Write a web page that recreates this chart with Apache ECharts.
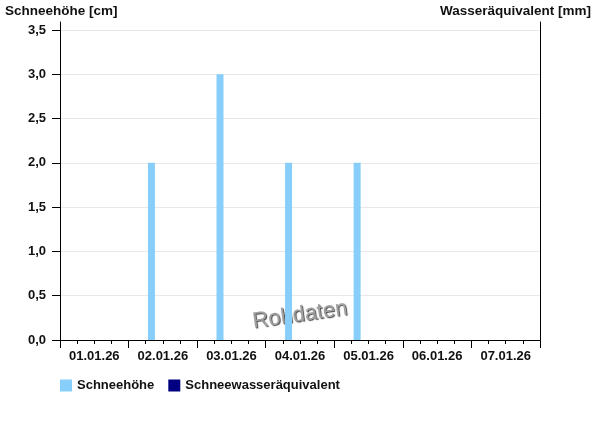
<!DOCTYPE html>
<html><head><meta charset="utf-8">
<script src="https://cdn.jsdelivr.net/npm/echarts@6/dist/echarts.min.js"></script>
<style>html,body{margin:0;padding:0;background:#fff}#c{width:600px;height:426px}</style>
</head><body><div id="c"></div>
<script>
const dayLabels = ['01.01.26','02.01.26','03.01.26','04.01.26','05.01.26','06.01.26','07.01.26'];
const startDate = '2026-01-01T00:00';
const snowTimes = ['2026-01-02T08:00','2026-01-03T08:00','2026-01-04T08:00','2026-01-05T08:00'];
const snowDepth = [2, 3, 2, 2];
const waterEquiv = [];
const yTicks = [0, 0.5, 1, 1.5, 2, 2.5, 3, 3.5];

const t0 = new Date(startDate).getTime();
const toHours = s => (new Date(s).getTime() - t0) / 3600000;
const depthData = snowTimes.map((t, i) => [toHours(t), snowDepth[i]]);
const fmt = v => v.toFixed(1).replace('.', ',');
const font = 'Liberation Sans, Arial, sans-serif';

const chart = echarts.init(document.getElementById('c'), null, {renderer: 'canvas'});
chart.setOption({
  animation: false,
  backgroundColor: '#fff',
  grid: [
    {left: 60, right: 60, top: 30, bottom: 86},
    {left: 60, right: 60, top: 22, bottom: 86}
  ],
  legend: {
    left: 55, top: 374, itemWidth: 12, itemHeight: 12, itemGap: 14, icon: 'rect',
    textStyle: {fontFamily: font, fontWeight: 'bold', fontSize: 13, color: '#111'},
    data: ['Schneehöhe', 'Schneewasseräquivalent']
  },
  graphic: [
    {type: 'text', left: 5, top: 4, style: {text: 'Schneehöhe [cm]', font: 'bold 13.5px ' + font, fill: '#111'}},
    {type: 'text', right: 9, top: 4, style: {text: 'Wasseräquivalent [mm]', font: 'bold 13.5px ' + font, fill: '#111'}},
    {type: 'text', x: 300, y: 315, rotation: 0.14, z: -10,
      style: {text: 'Rohdaten', font: '22px ' + font, fill: '#a0a0a0', align: 'center', verticalAlign: 'middle',
        textShadowColor: '#444', textShadowOffsetX: 1, textShadowOffsetY: 1, textShadowBlur: 1}}
  ],
  xAxis: [
    {type: 'value', gridIndex: 0, min: 0, max: 168, interval: 24,
      axisLine: {show: true, lineStyle: {color: '#000', width: 1}},
      axisTick: {show: true, length: 8, lineStyle: {color: '#000'}},
      minorTick: {show: true, splitNumber: 4, length: 4, lineStyle: {color: '#000'}},
      axisLabel: {show: false}, splitLine: {show: false}},
    {type: 'category', gridIndex: 0, data: dayLabels, position: 'bottom', boundaryGap: true,
      axisLine: {show: false}, axisTick: {show: false}, splitLine: {show: false},
      axisLabel: {margin: 10, fontFamily: font, fontWeight: 'bold', fontSize: 13, color: '#111'}},
    {type: 'value', gridIndex: 1, min: 0, max: 168, show: false}
  ],
  yAxis: [
    {type: 'value', gridIndex: 0, min: 0, max: 3.5, interval: 0.5,
      axisLine: {show: false},
      axisTick: {show: true, length: 8, lineStyle: {color: '#000'}},
      axisLabel: {margin: 14, formatter: v => fmt(v), fontFamily: font, fontWeight: 'bold', fontSize: 13, color: '#111'},
      splitLine: {show: true, lineStyle: {color: '#e8e8e8'}}},
    {type: 'value', gridIndex: 0, min: 0, max: 3.5, interval: 0.5, position: 'right',
      axisLine: {show: false}, axisTick: {show: false}, axisLabel: {show: false}, splitLine: {show: false}},
    {type: 'value', gridIndex: 1, min: 0, max: 1, position: 'left',
      axisLine: {show: true, lineStyle: {color: '#000'}},
      axisTick: {show: false}, axisLabel: {show: false}, splitLine: {show: false}},
    {type: 'value', gridIndex: 1, min: 0, max: 1, position: 'right',
      axisLine: {show: true, lineStyle: {color: '#000'}},
      axisTick: {show: false}, axisLabel: {show: false}, splitLine: {show: false}}
  ],
  series: [
    {name: 'Schneehöhe', type: 'bar', xAxisIndex: 0, yAxisIndex: 0, data: depthData, barWidth: 7, barGap: '-100%',
      itemStyle: {color: '#87cefa'}, z: 5},
    {name: 'Schneewasseräquivalent', type: 'bar', xAxisIndex: 0, yAxisIndex: 1, data: waterEquiv, barWidth: 7, barGap: '-100%',
      itemStyle: {color: '#000080'}}
  ]
});
</script></body></html>
